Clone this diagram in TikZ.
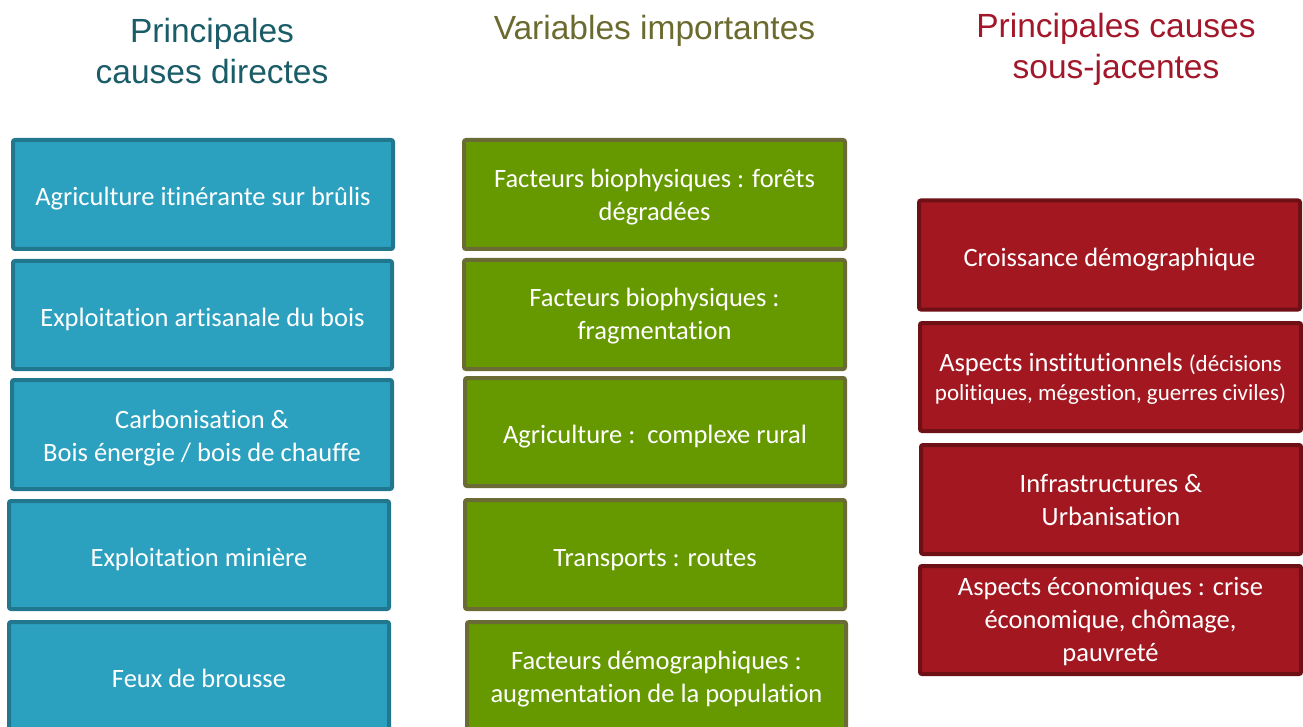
\documentclass[tikz,border=0pt]{standalone}
\usepackage{fontspec}
\setmainfont{Carlito}[Ligatures=NoCommon]
\newfontfamily\titlefont{Liberation Sans}
\definecolor{bluefill}{HTML}{2CA1BF}
\definecolor{blueline}{HTML}{21788E}
\definecolor{greenfill}{HTML}{669900}
\definecolor{greenline}{HTML}{6B6B35}
\definecolor{redfill}{HTML}{A31720}
\definecolor{redline}{HTML}{6E1016}
\definecolor{bluetitle}{HTML}{1A5C68}
\definecolor{greentitle}{HTML}{6B6B30}
\definecolor{redtitle}{HTML}{A3172A}
\begin{document}
\begin{tikzpicture}[x=1pt,y=-1pt,
  boxfont/.style={text=white, align=center, inner sep=0pt, font=\fontsize{26.5}{33}\selectfont},
  box/.style={boxfont, rectangle, rounded corners=2pt, line width=4pt,
    execute at begin node={\rule{0pt}{31pt}},
    execute at end node={\rule[-8pt]{0pt}{8pt}}},
  boxtext/.style={boxfont, yshift=#1},
  boxtext/.default=-3.5pt,
  bluebox/.style={box, fill=bluefill, draw=blueline},
  greenbox/.style={box, fill=greenfill, draw=greenline},
  redbox/.style={box, fill=redfill, draw=redline},
  sz/.style 2 args={minimum width=#1pt-4pt, minimum height=#2pt-4pt},
  title/.style={align=center, anchor=base, inner sep=0pt,
    font=\titlefont\fontsize{33.5}{40.6}\selectfont}
]
\useasboundingbox (0,0) rectangle (1303,727);
\clip (0,0) rectangle (1303,727);
\fill[white] (0,0) rectangle (1303,727);

% titles (anchor = baseline of last line)
\node[title, text=bluetitle] (t1) at (212,83.3) {Principales\\causes directes};
\node[title, text=greentitle] (t2) at (654.5,40) {Variables importantes};
\node[title, text=redtitle] (t3) at (1116,78.3) {Principales causes\\sous-jacentes};

% direct causes
\node[bluebox, sz={384}{113}] (b1) at (203,194.5) {Agriculture itinérante sur brûlis};
\node[bluebox, sz={383}{112}] (b2) at (202.5,315) {Exploitation artisanale du bois};
\node[bluebox, sz={384}{113}] (b3) at (202,434.5) {};
\node[boxtext] (b3t) at (b3.center) {Carbonisation \&\\Bois énergie / bois de chauffe};
\node[bluebox, sz={384}{112}] (b4) at (199,555) {Exploitation minière};
\node[bluebox, sz={384}{112}] (b5) at (199,676) {Feux de brousse};

% variables
\node[greenbox, sz={385}{113}] (g1) at (654.5,194.5) {};
\node[boxtext=-3pt] (g1t) at (g1.center) {Facteurs biophysiques : forêts\\dégradées};
\node[greenbox, sz={385}{113}] (g2) at (654.5,314.5) {};
\node[boxtext=-1.5pt] (g2t) at (g2.center) {Facteurs biophysiques :\\fragmentation};
\node[greenbox, sz={384}{112}] (g3) at (655,432) {Agriculture :~~complexe rural};
\node[greenbox, sz={384}{113}] (g4) at (655,554.5) {Transports : routes};
\node[greenbox, sz={383}{112}] (g5) at (656.5,676) {};
\node[boxtext] (g5t) at (g5.center) {Facteurs démographiques :\\augmentation de la population};

% underlying causes
\node[redbox, sz={385}{113}] (r1) at (1109.5,255) {Croissance démographique};
\node[redbox, sz={385}{112}] (r2) at (1110.5,377) {};
\node[boxtext=-1.5pt] (r2t) at (r2.center) {Aspects institutionnels {\fontsize{23}{28}\selectfont (décisions}\\[-4pt]{\fontsize{23}{28}\selectfont politiques, mégestion, guerres civiles)}};
\node[redbox, sz={384}{113}] (r3) at (1111,499.5) {};
\node[boxtext=-0.5pt] (r3t) at (r3.center) {Infrastructures \&\\Urbanisation};
\node[redbox, sz={385}{112}] (r4) at (1110.5,620) {};
\node[boxtext=-2pt] (r4t) at (r4.center) {Aspects économiques : crise\\économique, chômage,\\pauvreté};
\end{tikzpicture}
\end{document}
